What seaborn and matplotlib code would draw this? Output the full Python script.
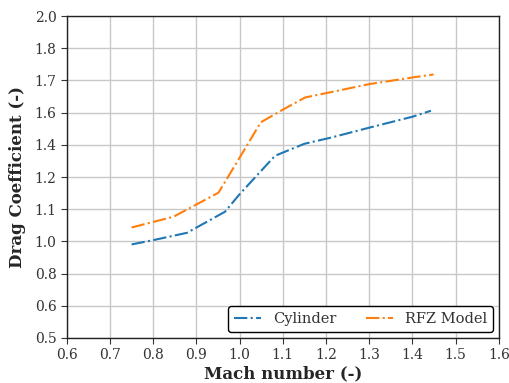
import numpy as np
import pandas as pd
import matplotlib
matplotlib.use("Agg")
import matplotlib.pyplot as plt
import seaborn as sns
from matplotlib.ticker import FormatStrFormatter

mach_cyl = [0.75, 0.80, 0.878, 0.966, 1.00, 1.082, 1.15, 1.21, 1.30, 1.40, 1.443]
cd_cyl = [0.936, 0.956, 0.990, 1.088, 1.170, 1.349, 1.405, 1.433, 1.480, 1.531, 1.559]

mach_rfz = [0.75, 0.847, 0.951, 1.00, 1.049, 1.101, 1.152, 1.21, 1.30, 1.40, 1.449]
cd_rfz = [1.015, 1.065, 1.177, 1.340, 1.505, 1.565, 1.621, 1.645, 1.683, 1.714, 1.728]

labels = ["Cylinder", "RFZ Model"]
y_tick_labels = ["0.5", "0.6", "0.8", "1.0", "1.1", "1.2", "1.4", "1.6", "1.7", "1.8", "2.0"]

df = pd.concat([
    pd.DataFrame({"Mach": mach_cyl, "Cd": cd_cyl, "Series": labels[0]}),
    pd.DataFrame({"Mach": mach_rfz, "Cd": cd_rfz, "Series": labels[1]}),
])

sns.set_theme(style="ticks")
plt.rcParams["font.family"] = ["DejaVu Serif"]

fig = plt.figure(figsize=(5.1, 3.83), dpi=100)
ax = fig.add_axes([0.131, 0.1175, 0.847, 0.8405])

sns.lineplot(data=df, x="Mach", y="Cd", hue="Series", palette=["#1f77b4", "#ff7f0e"],
             linestyle="-.", linewidth=1.5, ax=ax, sort=False, estimator=None)

ax.set_xlim(0.6, 1.6)
ax.set_ylim(0.5, 2.0)
ax.set_xticks(np.arange(0.6, 1.61, 0.1))
ax.xaxis.set_major_formatter(FormatStrFormatter("%.1f"))
ax.set_yticks(np.linspace(0.5, 2.0, 11))
ax.set_yticklabels(y_tick_labels)
ax.tick_params(labelsize=10, colors="#333333", labelcolor="#333333", length=4, width=0.8)
ax.grid(True, color="#c8c8c8", linewidth=1.0)
for s in ax.spines.values():
    s.set_visible(True)
    s.set_color("#222222")
    s.set_linewidth(1.0)

ax.set_xlabel("Mach number (-)", fontsize=12, fontweight="bold", labelpad=2)
ax.set_ylabel("Drag Coefficient (-)", fontsize=12, fontweight="bold", labelpad=6)

leg = ax.legend(loc="lower right", ncol=2, fontsize=10.5, frameon=True,
                edgecolor="black", fancybox=True, framealpha=1,
                handlelength=1.9, columnspacing=2.0, borderaxespad=0.4)
leg.get_frame().set_linewidth(1.0)
for t in leg.get_texts():
    t.set_color("#333333")

fig.savefig("out.png", dpi=100)
